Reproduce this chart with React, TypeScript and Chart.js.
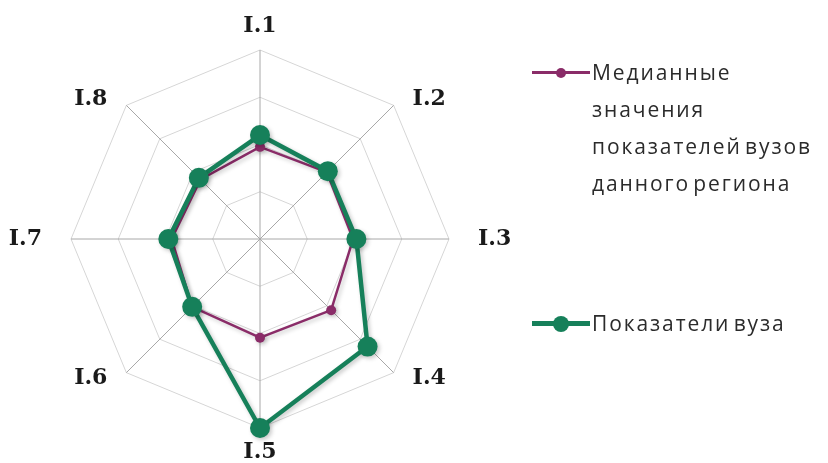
import React, { useEffect, useRef } from "react";
import { Chart, registerables } from "chart.js";

Chart.register(...registerables);

const categories = ["I.1", "I.2", "I.3", "I.4", "I.5", "I.6", "I.7", "I.8"];
const medianLabel = ["Медианные", "значения", "показателей вузов", "данного региона"];
const medianValues = [1.95, 2.0, 1.97, 2.13, 2.09, 2.03, 1.87, 1.78];
const uniLabel = ["Показатели вуза"];
const uniValues = [2.2, 2.03, 2.04, 3.22, 4.0, 2.03, 1.94, 1.83];
const scaleMax = 4;
const scaleStep = 1;

const MAGENTA = "#8a2c68";
const GREEN = "#16805a";

const labelPlugin = {
  id: "customPointLabels",
  afterDraw(chart: any) {
    const scale = chart.scales.r;
    const ctx = chart.ctx;
    ctx.save();
    ctx.font = "bold 22px 'DejaVu Serif'";
    ctx.fillStyle = "#1a1a1a";
    const n = categories.length;
    for (let i = 0; i < n; i++) {
      const p = scale.getPointPosition(i, scale.drawingArea + 24);
      const ang = p.angle;
      const c = Math.cos(ang);
      const s = Math.sin(ang);
      let x = p.x;
      let y = p.y;
      if (Math.abs(c) < 0.1) ctx.textAlign = "center";
      else if (c > 0) ctx.textAlign = "left";
      else ctx.textAlign = "right";
      if (Math.abs(s) < 0.1) {
        ctx.textBaseline = "middle";
        x += c > 0 ? 5 : -5;
      } else if (Math.abs(c) < 0.1) {
        ctx.textBaseline = "middle";
      } else if (s < 0) ctx.textBaseline = "top";
      else ctx.textBaseline = "bottom";
      ctx.fillText(categories[i], x + (Math.abs(s) > 0.1 && Math.abs(c) > 0.1 ? (c > 0 ? 2 : -2) : 0), y);
    }
    ctx.restore();
  },
};

const shadowPlugin = {
  id: "lineShadow",
  beforeDatasetsDraw(chart: any) {
    const ctx = chart.ctx;
    ctx.save();
    ctx.shadowColor = "rgba(0,0,0,0.22)";
    ctx.shadowBlur = 4;
    ctx.shadowOffsetX = 2;
    ctx.shadowOffsetY = 2;
  },
  afterDatasetsDraw(chart: any) {
    chart.ctx.restore();
  },
};

function LegendItem({ color, lines, top, lw, dot }: any) {
  return (
    <div style={{ position: "absolute", left: 532, top, display: "flex" }}>
      <div style={{ position: "relative", width: 60, height: 37 }}>
        <div
          style={{
            position: "absolute",
            left: 0,
            width: 58,
            top: 18.5 - lw / 2,
            height: lw,
            background: color,
          }}
        />
        <div
          style={{
            position: "absolute",
            left: 29 - dot,
            top: 18.5 - dot,
            width: dot * 2,
            height: dot * 2,
            borderRadius: "50%",
            background: color,
          }}
        />
      </div>
      <div
        style={{
          fontFamily: "'Open Sans', sans-serif",
          fontSize: 21,
          lineHeight: "37px",
          color: "#2b2b2b",
          letterSpacing: 1.9,
          wordSpacing: -4,
          whiteSpace: "nowrap",
        }}
      >
        {lines.map((l: string, i: number) => (
          <div key={i}>{l}</div>
        ))}
      </div>
    </div>
  );
}

export default function App() {
  const ref = useRef<HTMLCanvasElement>(null);
  useEffect(() => {
    if (!ref.current) return;
    const chart = new Chart(ref.current, {
      type: "radar",
      data: {
        labels: categories,
        datasets: [
          {
            label: medianLabel.join(" "),
            data: medianValues,
            borderColor: MAGENTA,
            backgroundColor: MAGENTA,
            pointBackgroundColor: MAGENTA,
            pointBorderColor: MAGENTA,
            borderWidth: 2.5,
            pointRadius: 5,
            pointBorderWidth: 0,
            fill: false,
            order: 1,
            clip: false as any,
          },
          {
            label: uniLabel.join(" "),
            data: uniValues,
            borderColor: GREEN,
            backgroundColor: GREEN,
            pointBackgroundColor: GREEN,
            pointBorderColor: GREEN,
            borderWidth: 4.5,
            pointRadius: 10,
            pointBorderWidth: 0,
            fill: false,
            order: 0,
            clip: false as any,
          },
        ],
      },
      options: {
        responsive: false,
        animation: false,
        layout: { padding: { left: 71, top: 50, right: 379, bottom: 35 } },
        plugins: { legend: { display: false }, tooltip: { enabled: false } },
        scales: {
          r: {
            min: 0,
            max: scaleMax,
            ticks: { display: false, stepSize: scaleStep },
            pointLabels: { display: false },
            grid: { color: "#d6d6d6", lineWidth: 1 },
            angleLines: { color: "#a8a8a8", lineWidth: 1 },
          },
        },
      },
      plugins: [shadowPlugin, labelPlugin],
    });
    return () => chart.destroy();
  }, []);
  return (
    <div style={{ position: "absolute", left: 0, top: 0, width: 828, height: 463, background: "#fff" }}>
      <canvas ref={ref} width={828} height={463} style={{ position: "absolute", left: 0, top: 0 }} />
      <LegendItem color={MAGENTA} lines={medianLabel} top={54} lw={3} dot={5} />
      <LegendItem color={GREEN} lines={uniLabel} top={305} lw={4.5} dot={8} />
    </div>
  );
}
